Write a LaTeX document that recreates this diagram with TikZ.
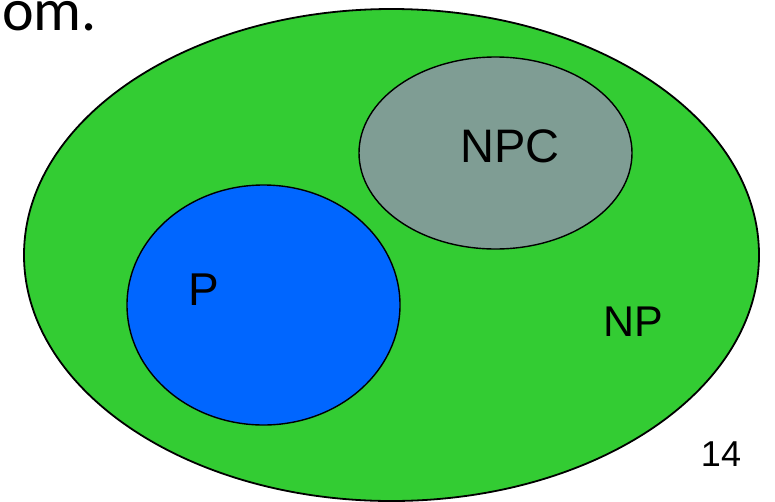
\documentclass[tikz,border=0pt]{standalone}
\usepackage{fontspec}
\setmainfont{Liberation Sans}
\newfontfamily\titlefont{Carlito}
\definecolor{npgreen}{RGB}{51,204,51}
\definecolor{pblue}{RGB}{0,102,255}
\definecolor{npcgray}{RGB}{127,157,148}
\begin{document}
\begin{tikzpicture}[x=1pt,y=-1pt,
  setshape/.style={draw=black,line width=1.4pt},
  lbl/.style={anchor=base,inner sep=0pt,text=black}]
\useasboundingbox (0,0) rectangle (775,501);
\fill[white] (0,0) rectangle (775,501);
\draw[setshape,fill=npgreen,line width=1.8pt] (391.5,255) ellipse [x radius=367.5, y radius=246];
\draw[setshape,fill=npcgray] (495.5,153) ellipse [x radius=136.5, y radius=96];
\draw[setshape,fill=pblue] (263.5,305) ellipse [x radius=136.5, y radius=120];
\node[lbl,font=\fontsize{47}{50}\selectfont] (npc) at (510,162) {NPC};
\node[lbl,font=\fontsize{46}{50}\selectfont] (p) at (203.7,305) {P};
\node[lbl,font=\fontsize{43}{50}\selectfont] (np) at (633,336.7) {NP};
\node[lbl,font=\fontsize{36}{40}\selectfont] (pg) at (721,466.7) {14};
\node[anchor=base west,inner sep=0pt,font=\titlefont\fontsize{60}{64}\selectfont] (title) at (2,30) {om.};
\end{tikzpicture}
\end{document}
